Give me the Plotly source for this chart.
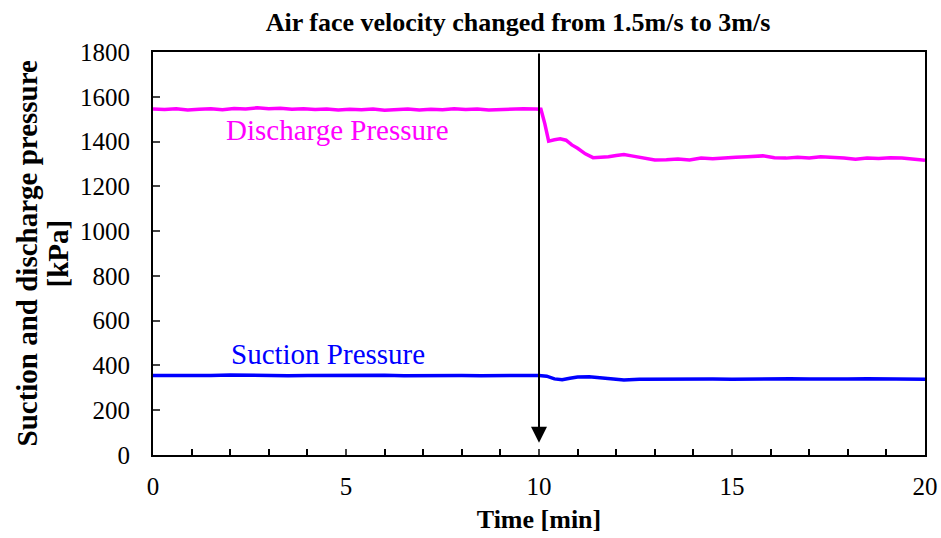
import plotly.graph_objects as go

# Discharge pressure [kPa] vs time [min]
t_dis = [0, 0.3, 0.6, 0.9, 1.2, 1.5, 1.8, 2.1, 2.4, 2.7, 3.0, 3.3, 3.6, 3.9, 4.2, 4.5,
         4.8, 5.1, 5.4, 5.7, 6.0, 6.3, 6.6, 6.9, 7.2, 7.5, 7.8, 8.1, 8.4, 8.7, 9.0, 9.3,
         9.6, 9.9, 10.05, 10.15, 10.25, 10.4, 10.55, 10.7, 10.85, 11.0, 11.2, 11.4, 11.6,
         11.8, 12.0, 12.2, 12.4, 12.6, 12.8, 13.0, 13.3, 13.6, 13.9, 14.2, 14.5, 14.8,
         15.1, 15.4, 15.8, 16.1, 16.4, 16.7, 17.0, 17.3, 17.6, 17.9, 18.2, 18.5, 18.8,
         19.1, 19.4, 19.7, 20.0]
p_dis = [1545, 1543, 1546, 1541, 1544, 1546, 1542, 1548, 1545, 1551, 1547, 1549, 1544, 1546, 1543, 1545,
         1541, 1544, 1542, 1545, 1540, 1543, 1545, 1541, 1544, 1542, 1546, 1543, 1545, 1541, 1544, 1546,
         1547, 1545, 1544, 1480, 1402, 1408, 1412, 1406, 1385, 1370, 1345, 1328, 1330,
         1332, 1338, 1342, 1336, 1330, 1326, 1318, 1319, 1322, 1318, 1326, 1323, 1328,
         1330, 1332, 1336, 1328, 1326, 1330, 1327, 1332, 1330, 1326, 1321, 1327, 1324,
         1328, 1326, 1320, 1316]

# Suction pressure [kPa] vs time [min]
t_suc = [0, 0.5, 1.0, 1.5, 2.0, 2.5, 3.0, 3.5, 4.0, 4.5, 5.0, 5.5, 6.0, 6.5, 7.0, 7.5,
         8.0, 8.5, 9.0, 9.5, 10.0, 10.2, 10.4, 10.6, 10.8, 11.0, 11.3, 11.6, 11.9, 12.2,
         12.6, 13.0, 13.5, 14.0, 14.5, 15.0, 15.5, 16.0, 16.5, 17.0, 17.5, 18.0, 18.5,
         19.0, 19.5, 20.0]
p_suc = [355, 354, 356, 355, 357, 355, 356, 354, 355, 356, 354, 355, 356, 354, 355, 356,
         355, 354, 356, 355, 355, 352, 340, 336, 343, 348, 350, 345, 337, 335,
         338, 339, 338, 340, 339, 338, 340, 339, 341, 340, 339, 340, 341,
         339, 340, 338]

x_ticks = [0, 5, 10, 15, 20]
y_ticks = [0, 200, 400, 600, 800, 1000, 1200, 1400, 1600, 1800]

FONT = "Liberation Serif"
PLOT_W = 941 - 153 - 16

fig = go.Figure()
fig.add_trace(go.Scatter(x=t_dis, y=p_dis, mode="lines",
                         line=dict(color="#ff00ff", width=3.5), showlegend=False))
fig.add_trace(go.Scatter(x=t_suc, y=p_suc, mode="lines",
                         line=dict(color="#0000ff", width=3.5), showlegend=False))

fig.add_annotation(x=10, y=55, ax=10, ay=1800, xref="x", yref="y", axref="x", ayref="y",
                   showarrow=True, arrowhead=2, arrowsize=1.6, arrowwidth=2, arrowcolor="black",
                   text="")
fig.add_annotation(x=1.85, y=1450, xref="x", yref="y", text="Discharge Pressure",
                   showarrow=False, xanchor="left", yanchor="middle",
                   font=dict(family=FONT, size=29, color="#ff00ff"))
fig.add_annotation(x=1.98, y=450, xref="x", yref="y", text="Suction Pressure",
                   showarrow=False, xanchor="left", yanchor="middle",
                   font=dict(family=FONT, size=29, color="#0000ff"))

# y-axis title (two lines, placed individually)
fig.add_annotation(x=(26 - 153) / PLOT_W, y=0.5, xref="paper", yref="paper",
                   text="<b>Suction and discharge pressure</b>", textangle=-90,
                   showarrow=False, xanchor="center", yanchor="middle",
                   font=dict(family=FONT, size=29, color="black"))
fig.add_annotation(x=(57 - 153) / PLOT_W, y=0.5, xref="paper", yref="paper",
                   text="<b>[kPa]</b>", textangle=-90,
                   showarrow=False, xanchor="center", yanchor="middle",
                   font=dict(family=FONT, size=29, color="black"))

fig.update_layout(
    width=941, height=538,
    margin=dict(l=153, r=16, t=52, b=83),
    paper_bgcolor="white", plot_bgcolor="white",
    font=dict(family=FONT, size=25, color="black"),
    title=dict(text="<b>Air face velocity changed from 1.5m/s to 3m/s</b>",
               x=518 / 941, xanchor="center", y=0.96, yanchor="middle",
               font=dict(family=FONT, size=26, color="black")),
)
fig.update_xaxes(range=[0, 20], tickvals=x_ticks, ticks="inside", ticklen=6, tickwidth=2,
                 minor=dict(dtick=1, ticks="inside", ticklen=6, tickwidth=2, tickcolor="black"),
                 showline=True, linecolor="black", linewidth=2, mirror=True,
                 showgrid=False, zeroline=False, automargin=False, ticklabelstandoff=8,
                 title=dict(text="<b>Time [min]</b>", font=dict(family=FONT, size=26), standoff=11),
                 tickfont=dict(family=FONT, size=25))
fig.update_yaxes(range=[0, 1800], tickvals=y_ticks, ticks="inside", ticklen=7, tickwidth=2,
                 showline=True, linecolor="black", linewidth=2, mirror=True,
                 showgrid=False, zeroline=False, automargin=False, ticklabelstandoff=16,
                 tickfont=dict(family=FONT, size=25))

fig.write_html("out.html")
